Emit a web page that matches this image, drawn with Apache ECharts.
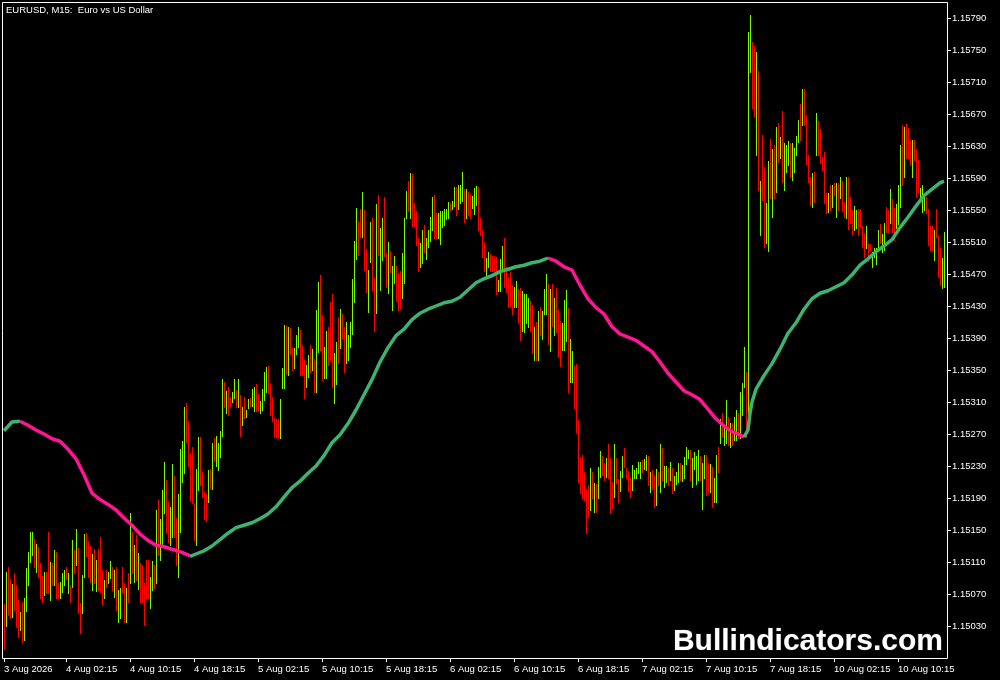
<!DOCTYPE html>
<html>
<head>
<meta charset="utf-8">
<script src="https://cdn.jsdelivr.net/npm/echarts@6/dist/echarts.min.js"></script>
<style>
html,body{margin:0;padding:0;background:#000;}
#chart{width:1000px;height:680px;}
</style>
</head>
<body>
<div id="chart"></div>
<script>
// ---- data (EURUSD M15) ----
const highs = [
1.15058,1.15098,1.15104,1.15089,1.15083,1.15096,1.15081,1.15063,1.15048,1.15060,
1.15065,1.15103,1.15123,1.15148,1.15148,1.15139,1.15133,1.15129,1.15109,1.15093,
1.15098,1.15098,1.15148,1.15110,1.15109,1.15125,1.15123,1.15084,1.15085,1.15096,
1.15100,1.15104,1.15096,1.15081,1.15138,1.15125,1.15151,1.15128,1.15059,1.15094,
1.15145,1.15146,1.15136,1.15130,1.15120,1.15126,1.15113,1.15126,1.15141,1.15100,
1.15088,1.15100,1.15098,1.15111,1.15104,1.15100,1.15104,1.15075,1.15078,1.15104,
1.15084,1.15078,1.15096,1.15171,1.15148,1.15131,1.15144,1.15121,1.15109,1.15106,
1.15084,1.15113,1.15113,1.15091,1.15111,1.15106,1.15175,1.15188,1.15164,1.15200,
1.15235,1.15213,1.15185,1.15179,1.15233,1.15218,1.15165,1.15195,1.15251,1.15261,
1.15304,1.15309,1.15286,1.15246,1.15254,1.15184,1.15226,1.15266,1.15266,1.15223,
1.15198,1.15195,1.15225,1.15226,1.15259,1.15265,1.15268,1.15259,1.15274,1.15339,
1.15335,1.15324,1.15329,1.15316,1.15323,1.15339,1.15325,1.15339,1.15319,1.15304,
1.15316,1.15300,1.15314,1.15315,1.15326,1.15329,1.15333,1.15320,1.15311,1.15326,
1.15348,1.15354,1.15355,1.15334,1.15316,1.15290,1.15289,1.15289,1.15314,1.15353,
1.15406,1.15405,1.15404,1.15403,1.15378,1.15378,1.15394,1.15404,1.15400,1.15381,
1.15363,1.15356,1.15369,1.15381,1.15376,1.15364,1.15425,1.15460,1.15469,1.15419,
1.15379,1.15399,1.15404,1.15435,1.15445,1.15371,1.15385,1.15416,1.15426,1.15420,
1.15404,1.15410,1.15394,1.15410,1.15464,1.15511,1.15553,1.15536,1.15551,1.15573,
1.15550,1.15501,1.15475,1.15535,1.15540,1.15465,1.15558,1.15569,1.15528,1.15540,
1.15566,1.15496,1.15510,1.15499,1.15480,1.15493,1.15480,1.15471,1.15474,1.15496,
1.15540,1.15574,1.15586,1.15596,1.15595,1.15559,1.15549,1.15515,1.15509,1.15525,
1.15531,1.15515,1.15525,1.15541,1.15566,1.15569,1.15546,1.15546,1.15549,1.15549,
1.15551,1.15551,1.15560,1.15559,1.15561,1.15579,1.15579,1.15581,1.15581,1.15598,
1.15576,1.15576,1.15573,1.15570,1.15568,1.15578,1.15580,1.15579,1.15540,1.15525,
1.15510,1.15490,1.15498,1.15495,1.15493,1.15493,1.15491,1.15463,1.15489,1.15505,
1.15515,1.15479,1.15466,1.15473,1.15456,1.15454,1.15461,1.15451,1.15453,1.15449,
1.15445,1.15445,1.15440,1.15436,1.15431,1.15404,1.15410,1.15424,1.15429,1.15424,
1.15451,1.15470,1.15458,1.15451,1.15458,1.15440,1.15453,1.15425,1.15411,1.15409,
1.15438,1.15450,1.15428,1.15389,1.15374,1.15355,1.15358,1.15288,1.15241,1.15244,
1.15223,1.15201,1.15206,1.15228,1.15223,1.15209,1.15208,1.15229,1.15249,1.15243,
1.15234,1.15240,1.15258,1.15240,1.15210,1.15258,1.15240,1.15214,1.15224,1.15243,
1.15253,1.15228,1.15224,1.15215,1.15231,1.15225,1.15228,1.15235,1.15235,1.15238,
1.15239,1.15244,1.15243,1.15223,1.15225,1.15219,1.15226,1.15223,1.15258,1.15253,
1.15230,1.15230,1.15228,1.15235,1.15228,1.15218,1.15223,1.15234,1.15234,1.15231,
1.15241,1.15254,1.15250,1.15250,1.15240,1.15248,1.15243,1.15250,1.15243,1.15234,
1.15244,1.15244,1.15234,1.15233,1.15229,1.15215,1.15244,1.15254,1.15289,1.15296,
1.15279,1.15313,1.15291,1.15284,1.15284,1.15291,1.15300,1.15296,1.15323,1.15334,
1.15379,1.15348,1.15773,1.15794,1.15760,1.15755,1.15748,1.15724,1.15586,1.15644,
1.15604,1.15559,1.15611,1.15639,1.15626,1.15631,1.15654,1.15659,1.15641,1.15674,
1.15634,1.15631,1.15636,1.15634,1.15634,1.15628,1.15643,1.15663,1.15683,1.15701,
1.15701,1.15669,1.15619,1.15591,1.15596,1.15598,1.15671,1.15661,1.15651,1.15616,
1.15623,1.15571,1.15571,1.15581,1.15581,1.15584,1.15584,1.15584,1.15591,1.15586,
1.15560,1.15591,1.15591,1.15566,1.15550,1.15555,1.15550,1.15551,1.15551,1.15530,
1.15521,1.15530,1.15508,1.15508,1.15498,1.15503,1.15503,1.15525,1.15533,1.15520,
1.15534,1.15554,1.15550,1.15576,1.15564,1.15553,1.15558,1.15581,1.15631,1.15656,
1.15654,1.15658,1.15653,1.15638,1.15638,1.15638,1.15626,1.15613,1.15578,1.15581,
1.15569,1.15566,1.15551,1.15530,1.15530,1.15525,1.15551,1.15518,1.15503,1.15490,1.15523
];
const lows = [
1.15001,1.15030,1.15044,1.15040,1.15041,1.15050,1.15029,1.15016,1.15025,1.15010,
1.15013,1.15049,1.15081,1.15110,1.15119,1.15104,1.15098,1.15091,1.15065,1.15060,
1.15069,1.15071,1.15071,1.15063,1.15081,1.15081,1.15065,1.15065,1.15065,1.15073,
1.15081,1.15089,1.15071,1.15060,1.15079,1.15096,1.15106,1.15046,1.15021,1.15046,
1.15091,1.15118,1.15091,1.15085,1.15075,1.15084,1.15074,1.15075,1.15073,1.15056,
1.15065,1.15079,1.15084,1.15090,1.15075,1.15066,1.15050,1.15035,1.15040,1.15073,
1.15035,1.15035,1.15060,1.15084,1.15096,1.15085,1.15088,1.15076,1.15060,1.15060,
1.15031,1.15065,1.15065,1.15053,1.15075,1.15078,1.15084,1.15119,1.15113,1.15130,
1.15171,1.15146,1.15135,1.15131,1.15141,1.15141,1.15106,1.15091,1.15148,1.15210,
1.15221,1.15260,1.15230,1.15186,1.15184,1.15138,1.15131,1.15200,1.15206,1.15191,
1.15164,1.15161,1.15185,1.15203,1.15201,1.15236,1.15230,1.15225,1.15241,1.15268,
1.15304,1.15296,1.15294,1.15305,1.15310,1.15315,1.15304,1.15304,1.15268,1.15281,
1.15290,1.15291,1.15303,1.15305,1.15305,1.15299,1.15299,1.15299,1.15296,1.15300,
1.15313,1.15323,1.15321,1.15294,1.15286,1.15266,1.15266,1.15265,1.15265,1.15328,
1.15328,1.15345,1.15344,1.15370,1.15350,1.15353,1.15370,1.15379,1.15344,1.15344,
1.15315,1.15329,1.15341,1.15348,1.15350,1.15323,1.15323,1.15373,1.15375,1.15338,
1.15340,1.15340,1.15356,1.15363,1.15329,1.15309,1.15333,1.15359,1.15378,1.15390,
1.15348,1.15359,1.15363,1.15379,1.15395,1.15435,1.15489,1.15494,1.15516,1.15516,
1.15475,1.15448,1.15423,1.15485,1.15450,1.15399,1.15421,1.15494,1.15450,1.15488,
1.15493,1.15454,1.15446,1.15473,1.15425,1.15459,1.15436,1.15425,1.15426,1.15440,
1.15459,1.15540,1.15549,1.15540,1.15530,1.15530,1.15506,1.15474,1.15479,1.15484,
1.15498,1.15489,1.15504,1.15511,1.15525,1.15515,1.15515,1.15515,1.15508,1.15529,
1.15531,1.15539,1.15540,1.15550,1.15551,1.15555,1.15544,1.15551,1.15559,1.15561,
1.15535,1.15540,1.15544,1.15540,1.15553,1.15545,1.15556,1.15525,1.15519,1.15491,
1.15474,1.15468,1.15479,1.15474,1.15474,1.15474,1.15445,1.15449,1.15449,1.15475,
1.15454,1.15448,1.15429,1.15430,1.15420,1.15429,1.15429,1.15410,1.15388,1.15399,
1.15398,1.15409,1.15404,1.15399,1.15371,1.15363,1.15363,1.15363,1.15394,1.15389,
1.15420,1.15420,1.15383,1.15374,1.15405,1.15394,1.15398,1.15366,1.15355,1.15375,
1.15375,1.15386,1.15323,1.15335,1.15335,1.15303,1.15273,1.15210,1.15196,1.15190,
1.15188,1.15146,1.15166,1.15175,1.15190,1.15173,1.15173,1.15190,1.15216,1.15219,
1.15213,1.15216,1.15215,1.15171,1.15178,1.15191,1.15209,1.15185,1.15199,1.15216,
1.15229,1.15215,1.15199,1.15191,1.15200,1.15215,1.15215,1.15221,1.15215,1.15223,
1.15226,1.15225,1.15206,1.15198,1.15201,1.15179,1.15181,1.15206,1.15198,1.15213,
1.15204,1.15210,1.15206,1.15213,1.15196,1.15200,1.15208,1.15210,1.15213,1.15211,
1.15215,1.15233,1.15240,1.15213,1.15204,1.15226,1.15208,1.15213,1.15213,1.15176,
1.15215,1.15194,1.15198,1.15198,1.15179,1.15185,1.15185,1.15223,1.15259,1.15266,
1.15256,1.15259,1.15256,1.15254,1.15256,1.15263,1.15263,1.15265,1.15265,1.15294,
1.15329,1.15266,1.15278,1.15723,1.15678,1.15666,1.15619,1.15575,1.15519,1.15563,
1.15504,1.15509,1.15499,1.15565,1.15541,1.15565,1.15573,1.15610,1.15615,1.15585,
1.15575,1.15598,1.15606,1.15591,1.15588,1.15598,1.15619,1.15635,1.15638,1.15656,
1.15656,1.15608,1.15585,1.15556,1.15554,1.15560,1.15619,1.15619,1.15609,1.15600,
1.15559,1.15546,1.15548,1.15550,1.15554,1.15569,1.15541,1.15550,1.15565,1.15549,
1.15541,1.15540,1.15526,1.15534,1.15520,1.15525,1.15528,1.15519,1.15529,1.15504,
1.15491,1.15503,1.15486,1.15499,1.15479,1.15491,1.15483,1.15500,1.15509,1.15498,
1.15500,1.15523,1.15523,1.15534,1.15523,1.15513,1.15528,1.15533,1.15554,1.15581,
1.15591,1.15615,1.15615,1.15606,1.15591,1.15613,1.15566,1.15573,1.15560,1.15548,
1.15550,1.15546,1.15506,1.15500,1.15500,1.15488,1.15516,1.15466,1.15456,1.15453,1.15454
];
// 1 = bullish bar (close > open), 0 = bearish bar
const upBar = [
0,1,0,0,1,0,0,0,1,0, 1,1,1,1,1,0,1,0,0,0, 1,0,0,1,0,1,0,0,1,1, 1,0,1,0,1,0,1,0,0,1,
1,0,0,0,1,0,1,0,0,0, 1,0,1,1,0,1,0,1,1,0, 0,1,0,1,0,1,0,1,0,0, 0,0,0,1,1,0,1,0,1,1,
1,0,0,1,1,0,0,1,1,1, 1,0,0,0,0,0,1,1,0,0, 0,0,1,0,1,0,1,1,1,1, 0,1,0,0,1,1,0,1,0,1,
0,1,1,0,1,1,0,0,1,1, 1,1,0,0,0,0,0,0,1,1, 1,0,1,0,0,1,1,1,0,0, 0,1,1,0,1,0,1,1,0,0,
1,1,0,0,0,1,1,0,1,0, 0,1,1,1,1,1,1,0,0,1, 0,0,1,1,0,0,1,0,1,1, 0,0,1,0,1,1,0,0,0,1,
1,1,0,1,0,0,0,0,1,1, 0,1,1,1,1,0,0,1,1,1, 1,1,1,0,1,1,0,1,1,1, 0,1,0,0,1,1,1,0,0,0,
0,1,1,0,0,0,0,1,1,1, 0,0,0,0,0,1,1,0,0,1, 1,1,1,0,0,1,0,1,0,1, 1,1,0,1,0,1,0,0,0,1,
1,1,0,1,1,0,0,0,0,0, 0,0,0,1,0,1,0,1,1,0, 0,1,0,0,0,1,0,0,1,1, 0,0,0,0,1,1,1,1,1,0,
1,1,0,1,0,0,1,0,1,0, 1,1,0,1,0,1,1,1,0,1, 1,1,1,0,1,1,1,1,0,1, 1,0,0,1,0,1,1,0,1,0,
1,1,0,1,0,1,1,0,1,1, 1,0,1,1,0,0,1,0,1,0, 0,1,1,0,1,0,1,0,1,0, 1,1,1,0,1,1,1,1,0,1,
0,0,0,0,1,0,1,0,0,0, 0,0,1,0,1,0,1,0,1,0, 0,1,0,0,0,1,1,0,0,0, 0,1,0,0,1,1,1,1,0,1,
1,0,0,1,0,0,1,1,1,0, 1,0,0,0,1,0,0,0,1,1, 1,0,0,0,0,1,0,0,0,1,1
];
// Moving average (slope coloured): bar index and value
const maBar = [0,4,8,12,16,20,24,28,32,36,40,44,48,52,56,60,64,68,72,76,80,84,88,92,93,
96,100,104,108,112,116,120,124,128,132,136,140,144,148,152,156,160,164,168,172,176,180,184,188,192,196,
200,204,208,212,216,220,224,228,232,236,240,244,248,252,256,260,264,268,272,
276,280,284,288,292,296,300,304,308,312,316,320,324,328,332,336,340,344,348,352,356,360,364,368,370,
372,373,374,376,380,384,388,392,396,400,404,408,412,416,420,424,428,432,436,440,444,448,452,456,460,464,468,470];
const maVal = [1.15274,1.15285,1.15286,1.15281,1.15275,1.15270,1.15264,1.15261,1.15251,1.15239,1.15219,1.15196,1.15188,1.15182,1.15175,1.15165,1.15156,1.15145,1.15137,1.15131,1.15129,1.15126,1.15123,1.15119,1.15117,
1.15120,1.15124,1.15130,1.15138,1.15146,1.15153,1.15156,1.15159,1.15164,1.15170,1.15179,1.15191,1.15203,1.15211,1.15221,1.15230,1.15243,1.15259,1.15269,1.15283,1.15300,1.15319,1.15338,1.15360,1.15378,1.15393,
1.15401,1.15413,1.15421,1.15426,1.15430,1.15434,1.15436,1.15441,1.15450,1.15459,1.15464,1.15468,1.15473,1.15476,1.15479,1.15481,1.15484,1.15486,1.15490,
1.15486,1.15479,1.15475,1.15456,1.15439,1.15428,1.15420,1.15404,1.15395,1.15391,1.15387,1.15380,1.15373,1.15360,1.15346,1.15335,1.15324,1.15319,1.15313,1.15301,1.15289,1.15280,1.15273,1.15269,1.15266,
1.15275,1.15296,1.15310,1.15326,1.15343,1.15358,1.15376,1.15396,1.15409,1.15426,1.15439,1.15446,1.15449,1.15454,1.15459,1.15469,1.15481,1.15489,1.15498,1.15505,1.15513,1.15528,1.15541,1.15555,1.15568,1.15576,1.15584,1.15586];
const yTickMin = 1.14990, yTickStep = 0.0004, yMax = 1.15810;
const titleText = 'EURUSD, M15:  Euro vs US Dollar';
const watermark = 'Bullindicators.com';
const monthNames = ['Jan','Feb','Mar','Apr','May','Jun','Jul','Aug','Sep','Oct','Nov','Dec'];

// ---- categories: M15 bar times (weekends skipped) ----
const NCAT = highs.length + 1;
const cats = [];
{
  let t = Date.UTC(2026, 7, 3, 18, 30);
  for (let i = 0; i < NCAT; i++) {
    const d = new Date(t);
    const hh = String(d.getUTCHours()).padStart(2,'0');
    const mm = String(d.getUTCMinutes()).padStart(2,'0');
    cats.push(d.getUTCDate() + ' ' + monthNames[d.getUTCMonth()] + (i === 0 ? ' ' + d.getUTCFullYear() : ' ' + hh + ':' + mm));
    t += 15 * 60000;
    while ([0,6].includes(new Date(t).getUTCDay())) t += 15 * 60000;
  }
}

const GREEN = '#7CFC00', RED = '#FF0000';
const MA_UP = '#3CB371', MA_DOWN = '#FF1493';
const FONT = '"Liberation Sans", Arial, sans-serif';

const barData = highs.map((h, i) => [i, h, lows[i], upBar[i]]);

// MA runs by slope direction
const runs = [];
let cur = null;
for (let k = 1; k < maBar.length; k++) {
  let rising = maVal[k] > maVal[k-1];
  if (maVal[k] === maVal[k-1] && cur) rising = cur.rising;
  if (!cur || cur.rising !== rising) {
    cur = { rising, pts: [[maBar[k-1], maVal[k-1]]] };
    runs.push(cur);
  }
  cur.pts.push([maBar[k], maVal[k]]);
}
const maSeries = runs.map(r => ({
  type: 'line', data: r.pts, symbol: 'none', z: 5,
  lineStyle: { color: r.rising ? MA_UP : MA_DOWN, width: 3.5 },
  silent: true
}));

const tickFn = (idx) => idx === 0 || idx % 32 === 31;

const chart = echarts.init(document.getElementById('chart'), null, { renderer: 'canvas' });
chart.setOption({
  backgroundColor: '#000',
  animation: false,
  grid: { left: 3, top: 2, width: 944, height: 656 },
  xAxis: {
    type: 'category', data: cats, boundaryGap: true,
    axisLine: { show: false },
    axisTick: { show: true, alignWithLabel: true, interval: tickFn, length: 4, lineStyle: { color: '#fff' } },
    axisLabel: { interval: tickFn, color: '#fff', fontFamily: FONT, fontSize: 9.5, align: 'left', margin: 6 },
    splitLine: { show: false }
  },
  yAxis: {
    type: 'value', position: 'right', min: yTickMin, max: yMax, interval: yTickStep, scale: true,
    axisLine: { show: false },
    axisTick: { show: true, length: 4, lineStyle: { color: '#fff' } },
    axisLabel: { color: '#fff', fontFamily: FONT, fontSize: 9.5, margin: 5, showMinLabel: false, showMaxLabel: false,
      formatter: v => v.toFixed(5) },
    splitLine: { show: false }
  },
  series: [{
    type: 'custom', data: barData, z: 2, silent: true,
    encode: { x: 0, y: [1, 2] },
    renderItem: function (params, api) {
      const i = api.value(0);
      const p1 = api.coord([i, api.value(1)]);
      const p2 = api.coord([i, api.value(2)]);
      const x = Math.round(p1[0]);
      const y1 = Math.round(p1[1]);
      const y2 = Math.round(p2[1]);
      return { type: 'rect', shape: { x: x, y: y1, width: 1, height: Math.max(1, y2 - y1 + 1) },
        style: { fill: api.value(3) ? GREEN : RED } };
    }
  }].concat(maSeries),
  graphic: [
    { type: 'rect', z: 100, silent: true, shape: { x: 2.5, y: 2.5, width: 945, height: 656 },
      style: { fill: 'none', stroke: '#fff', lineWidth: 1 } },
    { type: 'text', z: 100, left: 6, top: 5, silent: true,
      style: { text: titleText, fill: '#fff', font: '9.5px ' + FONT } },
    { type: 'text', z: 100, silent: true, x: 943, y: 627,
      style: { text: watermark, fill: '#fff', font: 'bold 30px ' + FONT, align: 'right', verticalAlign: 'top',
        stroke: '#222', lineWidth: 1 } }
  ]
});
</script>
</body>
</html>
